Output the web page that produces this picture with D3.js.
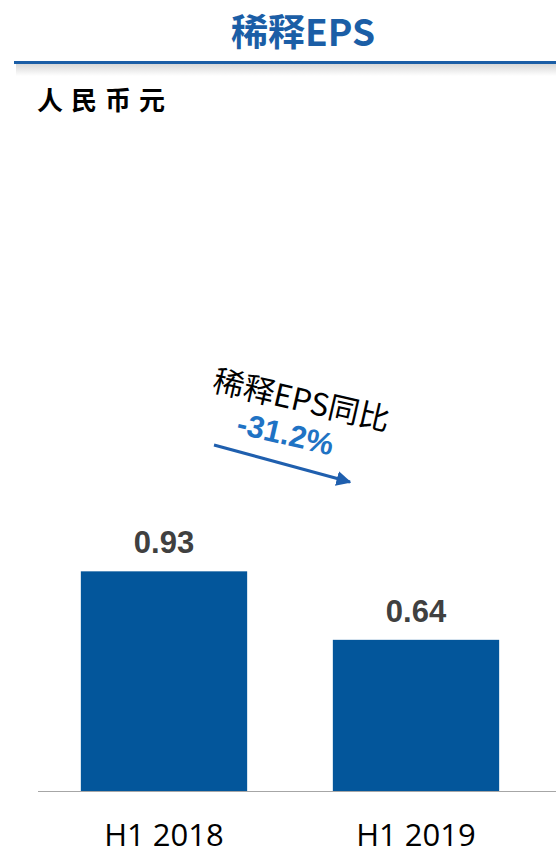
<!DOCTYPE html>
<html>
<head>
<meta charset="utf-8">
<script src="https://cdn.jsdelivr.net/npm/d3@7"></script>
<style>
  body { margin: 0; background: #fff; }
  svg { display: block; }
</style>
</head>
<body>
<script>
var w = 556;
var h = 855;

// data
var categories = ["H1 2018", "H1 2019"];
var values = [0.93, 0.64];
var valueLabels = ["0.93", "0.64"];
var changeLabel = "-31.2%";

var svg = d3.select("body")
            .append("svg")
            .attr("width", w)
            .attr("height", h);

var defs = svg.append("defs");
var grad = defs.append("linearGradient")
               .attr("id", "shadow")
               .attr("x1", 0).attr("y1", 0)
               .attr("x2", 0).attr("y2", 1);
grad.append("stop").attr("offset", "0%").attr("stop-color", "#d4d4d4");
grad.append("stop").attr("offset", "100%").attr("stop-color", "#ffffff");

// title
svg.append("text")
   .attr("x", 303)
   .attr("y", 46)
   .attr("text-anchor", "middle")
   .style("font-family", "'Noto Sans CJK SC', sans-serif")
   .style("font-weight", "bold")
   .style("font-size", "37px")
   .style("fill", "#1b5ea6")
   .text("稀释EPS");

// header rule + soft shadow
svg.append("rect")
   .attr("x", 16).attr("y", 63)
   .attr("width", w - 16).attr("height", 13)
   .style("fill", "url(#shadow)");
svg.append("rect")
   .attr("x", 14).attr("y", 61)
   .attr("width", w - 14).attr("height", 3)
   .style("fill", "#1b5ea6");

// unit
svg.append("text")
   .attr("x", 37)
   .attr("y", 110)
   .style("font-family", "'Noto Sans CJK SC', sans-serif")
   .style("font-weight", "bold")
   .style("font-size", "26px")
   .style("letter-spacing", "8px")
   .style("fill", "#000")
   .text("人民币元");

// scales
var x = d3.scaleBand()
          .domain(categories)
          .range([38, 542])
          .paddingInner(0.34)
          .paddingOuter(0.17);

var y = d3.scaleLinear()
          .domain([0, 1])
          .range([791, 791 - 236.2]);

// bars
svg.selectAll("rect.bar")
   .data(values)
   .enter()
   .append("rect")
   .attr("class", "bar")
   .attr("x", function(d, i) { return x(categories[i]); })
   .attr("y", function(d) { return y(d); })
   .attr("width", x.bandwidth())
   .attr("height", function(d) { return y(0) - y(d); })
   .style("fill", "#03569b");

// value labels
svg.selectAll("text.val")
   .data(values)
   .enter()
   .append("text")
   .attr("class", "val")
   .attr("x", function(d, i) { return x(categories[i]) + x.bandwidth() / 2; })
   .attr("y", function(d) { return y(d) - 18; })
   .attr("text-anchor", "middle")
   .style("font-family", "'Liberation Sans', Arial, sans-serif")
   .style("font-weight", "bold")
   .style("font-size", "31px")
   .style("fill", "#404040")
   .text(function(d, i) { return valueLabels[i]; });

// baseline
svg.append("line")
   .attr("x1", 38).attr("x2", w)
   .attr("y1", y(0) + 0.5).attr("y2", y(0) + 0.5)
   .style("stroke", "#a6a6a6")
   .style("stroke-width", 1);

// x labels
svg.selectAll("text.cat")
   .data(categories)
   .enter()
   .append("text")
   .attr("class", "cat")
   .attr("x", function(d) { return x(d) + x.bandwidth() / 2; })
   .attr("y", 846)
   .attr("text-anchor", "middle")
   .style("font-family", "'Open Sans', sans-serif")
   .style("font-size", "31px")
   .style("fill", "#000")
   .text(function(d) { return d; });

// change annotation
var ann = svg.append("g")
             .attr("transform", "translate(299,411) rotate(13)");
ann.append("text")
   .attr("x", 0).attr("y", 0)
   .attr("text-anchor", "middle")
   .style("font-family", "'Noto Sans CJK SC', sans-serif")
   .style("font-size", "31px")
   .style("fill", "#000")
   .text("稀释EPS同比");
ann.append("text")
   .attr("x", -8).attr("y", 36)
   .attr("text-anchor", "middle")
   .style("font-family", "'Liberation Sans', Arial, sans-serif")
   .style("font-weight", "bold")
   .style("font-size", "31px")
   .style("fill", "#1f73c4")
   .text(changeLabel);

defs.append("marker")
    .attr("id", "arrow")
    .attr("viewBox", "0 0 10 10")
    .attr("refX", 9).attr("refY", 5)
    .attr("markerWidth", 5).attr("markerHeight", 5)
    .attr("orient", "auto")
    .append("path")
    .attr("d", "M0,0 L10,5 L0,10 z")
    .style("fill", "#1f5fae");

svg.append("line")
   .attr("x1", 214).attr("y1", 445)
   .attr("x2", 350).attr("y2", 482)
   .style("stroke", "#1f5fae")
   .style("stroke-width", 3)
   .attr("marker-end", "url(#arrow)");
</script>
</body>
</html>
